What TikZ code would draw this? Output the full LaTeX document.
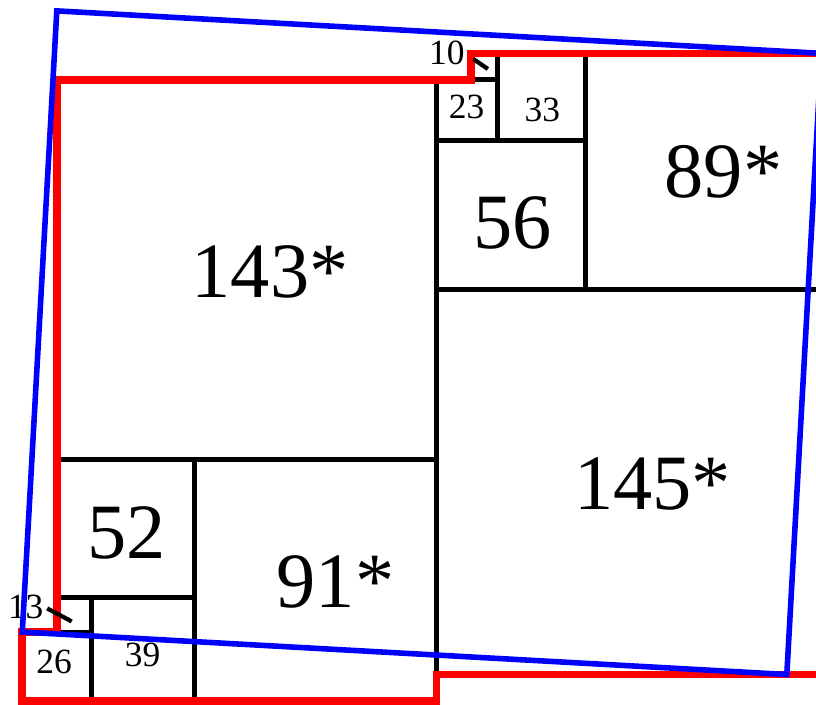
\documentclass[tikz,border=0pt]{standalone}
\usepackage{fontspec}
\setmainfont{Liberation Serif}
\begin{document}
\begin{tikzpicture}[x=1mm, y=-1mm,
    sq/.style={line width=1.9mm},
    outline/.style={draw=red, line width=2.9mm},
    tilted/.style={draw=blue, line width=2.1mm},
    big/.style={inner sep=0pt, font=\fontsize{84}{84}\selectfont},
    small/.style={inner sep=0pt, font=\fontsize{38}{38}\selectfont},
    leader/.style={line width=1.6mm}]
    \useasboundingbox (-21.4,-30.1) rectangle (286,235.4);

    % the squares: corner x / corner y / side
    \foreach \x/\y/\s in {0/0/143, 143/79/145, 199/-10/89, 143/23/56, 166/-10/33, 143/0/23,
                          156/-10/10, 52/143/91, 0/143/52, 13/195/39, -13/208/26, 0/195/13}
        \draw[sq] (\x,\y) rectangle ++(\s,\s);

    \node[big] (l143) at (73,72.5) {143\rlap{*}};
    \node[big] (l145) at (217,152.4) {145\rlap{*}};
    \node[big] (l89) at (243.8,34.8) {89\rlap{*}};
    \node[big] (l56) at (171.8,53.7) {56};
    \node[big] (l52) at (26.3,170.8) {52};
    \node[big] (l91) at (97.6,189.3) {91\rlap{*}};
    \node[small] (l23) at (154.4,10) {23};
    \node[small] (l33) at (182.9,11.2) {33};
    \node[small] (l39) at (32.3,216.6) {39};
    \node[small] (l26) at (-1,219.1) {26};
    \node[small] (l10) at (146.9,-10.1) {10};
    \node[small] (l13) at (-11.7,198.4) {13};

    % outline of the tiling
    \draw[outline] (0,0) -- (156,0) -- (156,-10) -- (288,-10) -- (288,224) -- (143,224)
        -- (143,234) -- (-13,234) -- (-13,208) -- (0,208) -- cycle;

    \coordinate (t10) at (162.4,-4.1);
    \coordinate (t13) at (5.6,204);
    \draw[leader, shorten <=4mm] (l10.east) -- (t10);
    \draw[leader, shorten <=1.5mm] (l13.east) -- (t13);

    % tilted rectangle
    \draw[tilted] (-13,208) -- (275,224) -- (288,-10) -- (0,-26) -- cycle;
\end{tikzpicture}
\end{document}
